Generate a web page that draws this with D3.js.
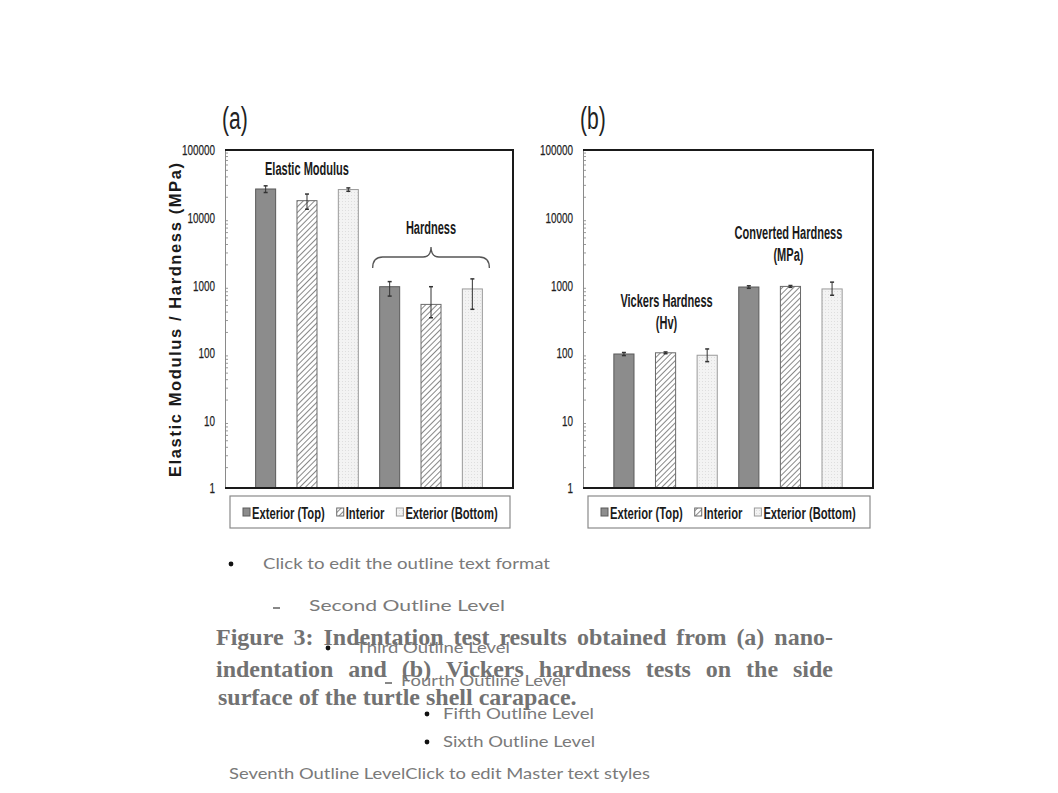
<!DOCTYPE html>
<html><head><meta charset="utf-8">
<script src="https://cdn.jsdelivr.net/npm/d3@7"></script>
<style>body{margin:0;background:#fff}svg{display:block}</style>
</head><body>
<svg id="c" width="1058" height="793"></svg>
<script>
// ---- data ----
const series = ["Exterior (Top)", "Interior", "Exterior (Bottom)"];
const groupsA = ["Elastic Modulus", "Hardness"];
const valuesA = [[26500, 17800, 26000], [950, 520, 880]];
const errPlusA = [[3000, 4500, 1500], [180, 430, 360]];
const errMinusA = [[3000, 4500, 1500], [260, 190, 440]];
const groupsB = ["Vickers Hardness (Hv)", "Converted Hardness (MPa)"];
const valuesB = [[96, 100, 92], [940, 960, 880]];
const errPlusB = [[5, 3, 22], [40, 30, 230]];
const errMinusB = [[5, 3, 18], [40, 30, 170]];
const yTicks = [1, 10, 100, 1000, 10000, 100000];
const yLabel = "Elastic Modulus / Hardness (MPa)";
const outlineLines = ["Click to edit the outline text format", "Second Outline Level", "Third Outline Level",
  "Fourth Outline Level", "Fifth Outline Level", "Sixth Outline Level", "Seventh Outline LevelClick to edit Master text styles"];
const captionLines = ["Figure 3: Indentation test results obtained from (a) nano-",
  "indentation and (b) Vickers hardness tests on the side",
  "surface of the turtle shell carapace."];

const svg = d3.select("#c");
const SANS = "'Liberation Sans',Arial,sans-serif";

// squeeze a text horizontally to mimic a narrow font
function squeeze(t, s) {
  const w = t.node().getComputedTextLength();
  t.attr("textLength", w * s).attr("lengthAdjust", "spacingAndGlyphs");
  return w * s;
}

// patterns
const defs = svg.append("defs");
const hatch = defs.append("pattern").attr("id", "hatch").attr("patternUnits", "userSpaceOnUse")
  .attr("width", 4).attr("height", 4).attr("patternTransform", "rotate(45)");
hatch.append("rect").attr("width", 4).attr("height", 4).attr("fill", "#fff");
hatch.append("line").attr("x1", 0).attr("y1", 0).attr("x2", 0).attr("y2", 4).attr("stroke", "#6a6a6a").attr("stroke-width", 1.6);
const dots = defs.append("pattern").attr("id", "dots").attr("patternUnits", "userSpaceOnUse").attr("width", 3).attr("height", 3);
dots.append("rect").attr("width", 3).attr("height", 3).attr("fill", "#f3f3f3");
dots.append("rect").attr("width", 1).attr("height", 1).attr("fill", "#dedede");

const fills = ["#8c8c8c", "url(#hatch)", "url(#dots)"];
const strokes = ["#5a5a5a", "#6a6a6a", "#9a9a9a"];

function panel(x0, x1, groups, values, errP, errM, label) {
  const yTop = 150, yBot = 488;
  const y = d3.scaleLog().domain([1, 100000]).range([yBot, yTop]);
  const gx = d3.scaleBand().domain(groups).range([x0, x1]).paddingInner(0).paddingOuter(0.161);
  const sx = d3.scaleBand().domain(series).range([0, gx.bandwidth()]).paddingInner(0.516).paddingOuter(0.258);
  const g = svg.append("g");

  // minor ticks inside left axis
  const minors = [];
  for (let d = 1; d < 100000; d *= 10) for (let k = 2; k <= 9; k++) minors.push(d * k);
  g.selectAll(".minor").data(minors).join("line")
    .attr("x1", x0).attr("x2", x0 + 3).attr("y1", d => y(d)).attr("y2", d => y(d))
    .attr("stroke", "#9a9a9a").attr("stroke-width", 1);

  // y axis
  const ax = g.append("g").attr("transform", `translate(${x0},0)`)
    .call(d3.axisLeft(y).tickValues(yTicks).tickFormat(d3.format("d")).tickSize(0).tickPadding(10));
  ax.select(".domain").attr("stroke", "#8a8a8a").attr("stroke-width", 1);
  ax.selectAll("text").attr("font-family", SANS).attr("font-size", 15).attr("fill", "#1e1e1e")
    .attr("stroke", "#1e1e1e").attr("stroke-width", 0.25)
    .each(function () { squeeze(d3.select(this), 0.66); });

  // bars
  groups.forEach((grp, gi) => {
    series.forEach((s, si) => {
      const cx = gx(grp) + sx(s);
      const v = values[gi][si];
      g.append("rect").attr("x", cx).attr("y", y(v)).attr("width", sx.bandwidth()).attr("height", yBot - y(v))
        .attr("fill", fills[si]).attr("stroke", strokes[si]).attr("stroke-width", 1);
      const mx = cx + sx.bandwidth() / 2;
      const hi = y(v + errP[gi][si]), lo = y(v - errM[gi][si]);
      g.append("line").attr("x1", mx).attr("x2", mx).attr("y1", hi).attr("y2", lo).attr("stroke", "#333").attr("stroke-width", 1);
      [hi, lo].forEach(yy => g.append("line").attr("x1", mx - 2).attr("x2", mx + 2).attr("y1", yy).attr("y2", yy)
        .attr("stroke", "#333").attr("stroke-width", 1.5));
    });
  });

  // frame: top, right, bottom
  g.append("path").attr("d", `M${x0},${yTop}H${x1}V${yBot}H${x0}`).attr("fill", "none").attr("stroke", "#1a1a1a").attr("stroke-width", 2);

  // panel label
  const pl = svg.append("text").attr("x", x0 - 3).attr("y", 129).attr("font-family", SANS).attr("font-size", 31).attr("fill", "#222").text(label);
  squeeze(pl, 0.68);

  // legend
  const lx0 = x0 + 5, lx1 = x1 - 3;
  svg.append("rect").attr("x", lx0).attr("y", 496).attr("width", lx1 - lx0).attr("height", 32)
    .attr("fill", "#fff").attr("stroke", "#8a8a8a").attr("stroke-width", 1.2);
  const lg = svg.append("g");
  let cur = lx0 + 13;
  series.forEach((s, si) => {
    lg.append("rect").attr("x", cur).attr("y", 508).attr("width", 7).attr("height", 8)
      .attr("fill", fills[si]).attr("stroke", strokes[si]).attr("stroke-width", 1);
    const t = lg.append("text").attr("x", cur + 9).attr("y", 518.5).attr("font-family", SANS)
      .attr("font-weight", "bold").attr("font-size", 17).attr("fill", "#1a1a1a").text(s);
    const w = squeeze(t, 0.66);
    cur += 9 + w + 12;
  });

  return {y, gx, sx};
}

const A = panel(225, 513, groupsA, valuesA, errPlusA, errMinusA, "(a)");
const B = panel(583, 873, groupsB, valuesB, errPlusB, errMinusB, "(b)");

// y label
svg.append("text").attr("transform", "translate(181,320) rotate(-90)").attr("text-anchor", "middle")
  .attr("font-family", SANS).attr("font-weight", "bold").attr("font-size", 16.5)
  .attr("fill", "#1a1a1a").attr("textLength", 314).attr("lengthAdjust", "spacing").text(yLabel);

// annotations
function ann(x, y, txt) {
  const t = svg.append("text").attr("x", x).attr("y", y).attr("text-anchor", "middle").attr("font-family", SANS)
    .attr("font-weight", "bold").attr("font-size", 17.5).attr("fill", "#1a1a1a").text(txt);
  squeeze(t, 0.63);
}
const cA0 = A.gx(groupsA[0]) + A.gx.bandwidth() / 2, cA1 = A.gx(groupsA[1]) + A.gx.bandwidth() / 2;
const cB0 = B.gx(groupsB[0]) + B.gx.bandwidth() / 2, cB1 = B.gx(groupsB[1]) + B.gx.bandwidth() / 2;
ann(cA0, 175, groupsA[0]);
ann(cA1, 234, groupsA[1]);
ann(cB0 + 1, 307, "Vickers Hardness");
ann(cB0 + 1, 329, "(Hv)");
ann(cB1 - 2, 239, "Converted Hardness");
ann(cB1 - 2, 261, "(MPa)");

// brace over hardness bars
const bl = A.gx(groupsA[1]) + A.sx(series[0]) - 7, br = A.gx(groupsA[1]) + A.sx(series[2]) + A.sx.bandwidth() + 7;
const bm = (bl + br) / 2;
svg.append("path").attr("d",
  `M${bl},268 Q${bl},257 ${bl + 10},257 L${bm - 8},257 Q${bm},257 ${bm},247 Q${bm},257 ${bm + 8},257 L${br - 10},257 Q${br},257 ${br},268`)
  .attr("fill", "none").attr("stroke", "#555").attr("stroke-width", 1.3);

// outline placeholder text
const OUT = "Lato,'Noto Sans',sans-serif";
const outCol = "#7a7a7a";
const outline = [
  {m: "dot", mx: 231, x: 263, y: 563, w: 287},
  {m: "dash", mx: 276, x: 309, y: 605, w: 196},
  {m: "dot", mx: 328, x: 356, y: 647, w: 154},
  {m: "dash", mx: 388, x: 401, y: 680, w: 165},
  {m: "dot", mx: 427, x: 443, y: 713, w: 151},
  {m: "dot", mx: 427, x: 443, y: 741, w: 152},
  {m: null, mx: 0, x: 229, y: 773, w: 421}
];
outline.forEach((o, i) => {
  if (o.m === "dot") svg.append("circle").attr("cx", o.mx).attr("cy", o.y + 1).attr("r", 2.4).attr("fill", "#111");
  if (o.m === "dash") svg.append("line").attr("x1", o.mx - 3).attr("x2", o.mx + 4).attr("y1", o.y + 3).attr("y2", o.y + 3).attr("stroke", "#111").attr("stroke-width", 1);
  svg.append("text").attr("x", o.x).attr("y", o.y + 6).attr("font-family", OUT).attr("font-size", 16)
    .attr("fill", outCol).attr("textLength", o.w).attr("lengthAdjust", "spacingAndGlyphs").text(outlineLines[i]);
});

// caption (justified)
const capX0 = 216, capX1 = 833;
const capY = [645, 677, 705];
captionLines.forEach((line, li) => {
  const words = line.split(" ");
  const g = svg.append("g");
  const ts = words.map(w => g.append("text").attr("y", capY[li]).attr("font-family", "'Liberation Serif','Times New Roman',serif")
    .attr("font-weight", "bold").attr("font-size", 24).attr("fill", "#727272").text(w));
  const widths = ts.map(t => t.node().getComputedTextLength());
  const total = d3.sum(widths);
  const justify = li < captionLines.length - 1;
  const space = justify ? (capX1 - capX0 - total) / (words.length - 1) : 6;
  let cx = capX0 + (li === 2 ? 2 : 0);
  ts.forEach((t, i) => { t.attr("x", cx); cx += widths[i] + space; });
});
</script>
</body></html>
